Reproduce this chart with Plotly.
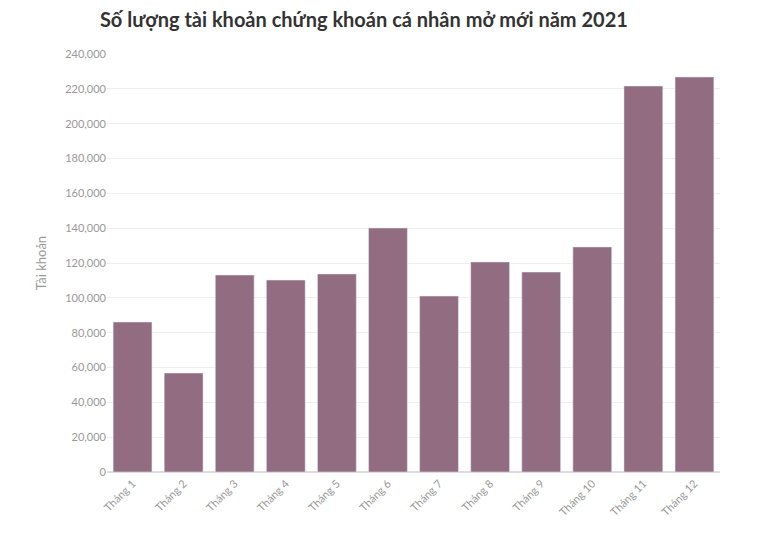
import plotly.graph_objects as go

# Data
months = ['Tháng 1', 'Tháng 2', 'Tháng 3', 'Tháng 4', 'Tháng 5', 'Tháng 6',
          'Tháng 7', 'Tháng 8', 'Tháng 9', 'Tháng 10', 'Tháng 11', 'Tháng 12']
accounts = [86100, 56800, 113100, 110200, 113700, 140100,
            101000, 120600, 114800, 129200, 221600, 226800]

fig = go.Figure(go.Bar(x=months, y=accounts, marker_color='#926d82', width=0.76))

fig.update_layout(
    width=779, height=541,
    title=dict(text='<b>Số lượng tài khoản chứng khoán cá nhân mở mới năm 2021</b>',
               x=0.118, xanchor='left', y=0.99, font=dict(size=20, color='#333333', family='Lato')),
    font=dict(family='Lato', color='#999999', size=11),
    plot_bgcolor='white', paper_bgcolor='white',
    margin=dict(l=99, r=67, t=46, b=77),
    showlegend=False,
)
fig.update_yaxes(range=[0, 240000], dtick=20000, tickformat=',', gridcolor='#eeeeee',
                 title=dict(text='Tài khoản', font=dict(size=13, color='#999999')),
                 zeroline=True, zerolinecolor='#dddddd')
fig.update_xaxes(tickangle=-45, showline=True, linecolor='#dddddd')

fig.write_html("out.html")
